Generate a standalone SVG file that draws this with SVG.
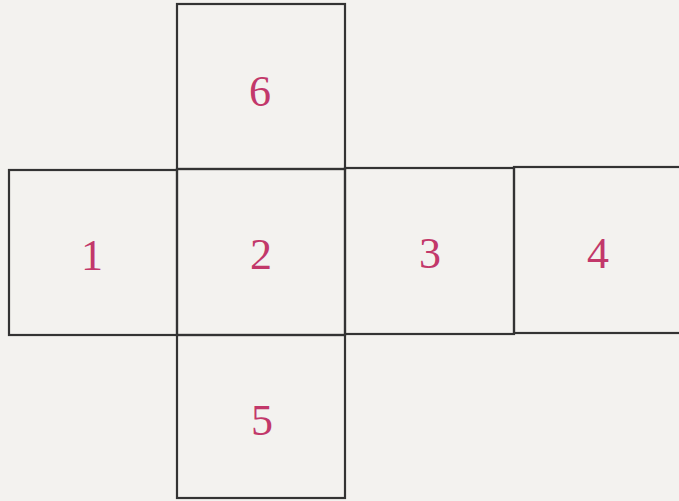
<svg xmlns="http://www.w3.org/2000/svg" width="679" height="501" viewBox="0 0 679 501">
<style>
.face{fill:none;stroke:#333;stroke-width:2.2}
.lbl{font-family:"Liberation Serif",serif;font-size:44px;fill:#c2386a;text-anchor:middle}
</style>
<rect width="679" height="501" fill="#f3f2ef"/>
<g id="face6"><rect class="face" x="177" y="4" width="168" height="165"/><text class="lbl" x="260" y="106">6</text></g>
<g id="face1"><rect class="face" x="9" y="170" width="168" height="165"/><text class="lbl" x="92" y="270">1</text></g>
<g id="face2"><rect class="face" x="177" y="169" width="168" height="166"/><text class="lbl" x="261" y="269">2</text></g>
<g id="face3"><rect class="face" x="345" y="168" width="169" height="166"/><text class="lbl" x="430" y="268">3</text></g>
<g id="face4"><rect class="face" x="514" y="167" width="168" height="166"/><text class="lbl" x="598" y="268">4</text></g>
<g id="face5"><rect class="face" x="177" y="335" width="168" height="163"/><text class="lbl" x="262" y="435">5</text></g>
</svg>
